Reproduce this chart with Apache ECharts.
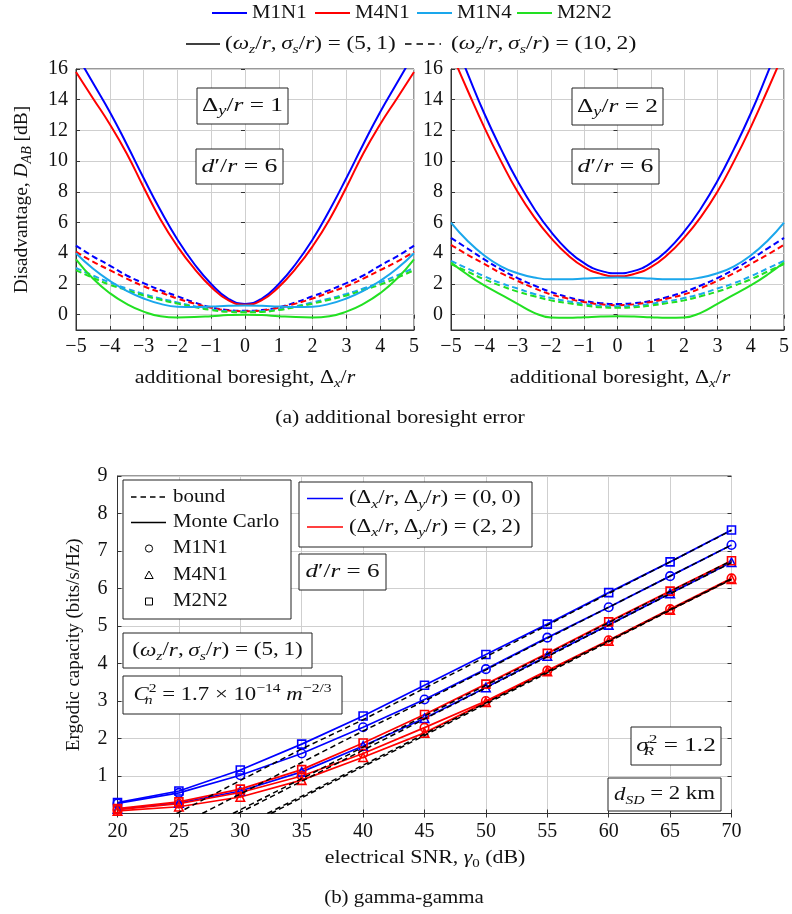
<!DOCTYPE html>
<html>
<head>
<meta charset="utf-8">
<script src="https://cdn.jsdelivr.net/npm/echarts@6/dist/echarts.min.js"></script>
<style>
  html, body { margin: 0; padding: 0; background: #fff; }
  #chart { width: 792px; height: 914px; }
</style>
</head>
<body>
<div id="chart"></div>
<script>
// ---------- data: (a) disadvantage vs additional boresight ----------
const offsets = [-5, -4.5, -4, -3.5, -3, -2.5, -2, -1.5, -1, -0.5, 0, 0.5, 1, 1.5, 2, 2.5, 3, 3.5, 4, 4.5, 5];
const disadvTicks = [0, 2, 4, 6, 8, 10, 12, 14, 16];

// Δy/r = 1, (ωz/r, σs/r) = (5,1)
const dy1_M1N1_a = [17.0, 15.1, 13.2, 11.1, 8.9, 6.8, 4.9, 3.3, 2.0, 1.05, 0.7, 1.05, 2.0, 3.3, 4.9, 6.8, 8.9, 11.1, 13.2, 15.1, 17.0];
const dy1_M4N1_a = [15.8, 14.1, 12.4, 10.5, 8.3, 6.2, 4.45, 3.0, 1.8, 0.95, 0.65, 0.95, 1.8, 3.0, 4.45, 6.2, 8.3, 10.5, 12.4, 14.1, 15.8];
const dy1_M1N4_a = [4.0, 3.0, 2.2, 1.55, 1.05, 0.7, 0.52, 0.5, 0.53, 0.58, 0.6, 0.58, 0.53, 0.5, 0.52, 0.7, 1.05, 1.55, 2.2, 3.0, 4.0];
const dy1_M2N2_a = [3.6, 2.35, 1.4, 0.7, 0.2, -0.1, -0.18, -0.16, -0.1, -0.03, 0.0, -0.03, -0.1, -0.16, -0.18, -0.1, 0.2, 0.7, 1.4, 2.35, 3.6];
// Δy/r = 1, (ωz/r, σs/r) = (10,2)
const dy1_M1N1_b = [4.5, 3.8, 3.2, 2.55, 2.05, 1.6, 1.2, 0.8, 0.48, 0.3, 0.25, 0.3, 0.48, 0.8, 1.2, 1.6, 2.05, 2.55, 3.2, 3.8, 4.5];
const dy1_M4N1_b = [4.1, 3.45, 2.9, 2.35, 1.85, 1.45, 1.05, 0.72, 0.45, 0.27, 0.22, 0.27, 0.45, 0.72, 1.05, 1.45, 1.85, 2.35, 2.9, 3.45, 4.1];
const dy1_M1N4_b = [3.05, 2.55, 2.1, 1.7, 1.35, 1.05, 0.8, 0.55, 0.35, 0.23, 0.2, 0.23, 0.35, 0.55, 0.8, 1.05, 1.35, 1.7, 2.1, 2.55, 3.05];
const dy1_M2N2_b = [2.9, 2.4, 1.95, 1.6, 1.25, 0.97, 0.72, 0.5, 0.3, 0.18, 0.15, 0.18, 0.3, 0.5, 0.72, 0.97, 1.25, 1.6, 1.95, 2.4, 2.9];

// Δy/r = 2, (ωz/r, σs/r) = (5,1)
const dy2_M1N1_a = [18.4, 15.7, 13.1, 10.8, 8.7, 6.9, 5.4, 4.2, 3.35, 2.85, 2.7, 2.85, 3.35, 4.2, 5.4, 6.9, 8.7, 10.8, 13.1, 15.7, 18.4];
const dy2_M4N1_a = [17.1, 14.6, 12.2, 10.0, 8.0, 6.35, 5.0, 3.9, 3.1, 2.65, 2.5, 2.65, 3.1, 3.9, 5.0, 6.35, 8.0, 10.0, 12.2, 14.6, 17.1];
const dy2_M1N4_a = [6.0, 4.8, 3.85, 3.15, 2.7, 2.42, 2.3, 2.3, 2.35, 2.4, 2.42, 2.4, 2.35, 2.3, 2.3, 2.42, 2.7, 3.15, 3.85, 4.8, 6.0];
const dy2_M2N2_a = [3.4, 2.6, 1.9, 1.3, 0.7, 0.12, -0.18, -0.21, -0.17, -0.12, -0.1, -0.12, -0.17, -0.21, -0.18, 0.12, 0.7, 1.3, 1.9, 2.6, 3.4];
// Δy/r = 2, (ωz/r, σs/r) = (10,2)
const dy2_M1N1_b = [5.0, 4.3, 3.6, 2.95, 2.38, 1.9, 1.48, 1.15, 0.9, 0.75, 0.7, 0.75, 0.9, 1.15, 1.48, 1.9, 2.38, 2.95, 3.6, 4.3, 5.0];
const dy2_M4N1_b = [4.55, 3.9, 3.3, 2.7, 2.2, 1.72, 1.32, 1.05, 0.82, 0.67, 0.62, 0.67, 0.82, 1.05, 1.32, 1.72, 2.2, 2.7, 3.3, 3.9, 4.55];
const dy2_M1N4_b = [3.5, 3.0, 2.5, 2.05, 1.7, 1.35, 1.08, 0.87, 0.7, 0.58, 0.55, 0.58, 0.7, 0.87, 1.08, 1.35, 1.7, 2.05, 2.5, 3.0, 3.5];
const dy2_M2N2_b = [3.3, 2.8, 2.3, 1.88, 1.5, 1.2, 0.93, 0.75, 0.6, 0.48, 0.45, 0.48, 0.6, 0.75, 0.93, 1.2, 1.5, 1.88, 2.3, 2.8, 3.3];

// ---------- data: (b) ergodic capacity, gamma-gamma ----------
const snr = [20, 25, 30, 35, 40, 45, 50, 55, 60, 65, 70];
// Monte Carlo, (Δx/r, Δy/r) = (0,0)
const mc00_M1N1 = [0.27, 0.55, 1.02, 1.6, 2.3, 3.04, 3.85, 4.69, 5.50, 6.33, 7.16];
const mc00_M4N1 = [0.12, 0.28, 0.6, 1.11, 1.8, 2.54, 3.36, 4.2, 5.03, 5.87, 6.70];
const mc00_M2N2 = [0.29, 0.6, 1.16, 1.85, 2.6, 3.42, 4.24, 5.05, 5.89, 6.71, 7.56];
// Monte Carlo, (Δx/r, Δy/r) = (2,2)
const mc22_M1N1 = [0.1, 0.26, 0.56, 1.0, 1.6, 2.29, 3.0, 3.81, 4.62, 5.45, 6.27];
const mc22_M4N1 = [0.07, 0.18, 0.44, 0.89, 1.5, 2.15, 2.97, 3.79, 4.6, 5.43, 6.25];
const mc22_M2N2 = [0.13, 0.31, 0.65, 1.17, 1.88, 2.64, 3.45, 4.27, 5.11, 5.93, 6.74];
// bounds: [SNR, capacity] pairs, starting where each bound leaves zero
const bd00_M2N2 = [[24.8, 0], [25, 0.03], [30, 0.88], [35, 1.72], [40, 2.5], [45, 3.34], [50, 4.18], [55, 5.02], [60, 5.87], [65, 6.71], [70, 7.55]];
const bd00_M1N1 = [[26.9, 0], [30, 0.52], [35, 1.36], [40, 2.2], [45, 3.0], [50, 3.83], [55, 4.67], [60, 5.5], [65, 6.33], [70, 7.16]];
const bd22_M2N2 = [[29.4, 0], [30, 0.1], [35, 0.93], [40, 1.77], [45, 2.6], [50, 3.42], [55, 4.25], [60, 5.09], [65, 5.92], [70, 6.74]];
const bd00_M4N1 = [[29.8, 0], [30, 0.03], [35, 0.86], [40, 1.69], [45, 2.52], [50, 3.35], [55, 4.18], [60, 5.02], [65, 5.86], [70, 6.69]];
const bd22_M1N1 = [[32.2, 0], [35, 0.46], [40, 1.29], [45, 2.12], [50, 2.95], [55, 3.78], [60, 4.61], [65, 5.44], [70, 6.26]];
const bd22_M4N1 = [[32.5, 0], [35, 0.42], [40, 1.25], [45, 2.08], [50, 2.92], [55, 3.75], [60, 4.58], [65, 5.42], [70, 6.24]];

// ---------- styling ----------
const FONT = 'Liberation Serif';
const INK = '#111';
const BLUE = '#0000ff', RED = '#ff0000', CYAN = '#1aa7ec', GREEN = '#22e022';
const GRID_C = '#cfcfcf', FRAME_C = '#333';
const TICK_SIZE = 20;

// rich-text styles for the math-like labels (italic symbols, sub/superscripts)
function mkRich(sz) {
  const lh = Math.round(sz * 1.3);
  const s = Math.round(sz * 0.7);
  return {
    rm:  { fontFamily: FONT, fontSize: sz, lineHeight: lh, color: INK },
    it:  { fontFamily: FONT, fontSize: sz, lineHeight: lh, color: INK, fontStyle: 'italic' },
    sb:  { fontFamily: FONT, fontSize: s, lineHeight: s, color: INK, fontStyle: 'italic', verticalAlign: 'bottom' },
    sbr: { fontFamily: FONT, fontSize: s, lineHeight: s, color: INK, verticalAlign: 'bottom' },
    sbz: { fontFamily: FONT, fontSize: s, lineHeight: s, color: INK, fontStyle: 'italic', verticalAlign: 'bottom', width: 0 },
    sp:  { fontFamily: FONT, fontSize: s, lineHeight: s, color: INK, verticalAlign: 'top' },
    spi: { fontFamily: FONT, fontSize: s, lineHeight: s, color: INK, fontStyle: 'italic', verticalAlign: 'top' }
  };
}

const minusFmt = v => String(v).replace('-', '\u2212');

function frameAxes(gi, xr, yr, xInt, yTicks) {
  // mirrored inner ticks on the top and right edges
  const xa = { gridIndex: gi, type: 'value', position: 'top', min: xr[0], max: xr[1], interval: xInt,
    axisLine: { show: false }, axisLabel: { show: false }, splitLine: { show: false },
    axisTick: { inside: true, length: 4, lineStyle: { color: FRAME_C } } };
  const ya = { gridIndex: gi, type: 'value', position: 'right', min: yr[0], max: yr[1],
    axisLine: { show: false }, axisLabel: { show: false }, splitLine: { show: false },
    axisTick: { inside: true, length: 4, lineStyle: { color: FRAME_C } } };
  if (yTicks) { ya.axisTick.customValues = yTicks; ya.splitNumber = 9; } else { ya.interval = 1; }
  return [xa, ya];
}

const labelStyle = { fontFamily: FONT, fontSize: TICK_SIZE, color: INK };

function topX(gi) {
  return {
    gridIndex: gi, type: 'value', min: -5, max: 5, interval: 1,
    axisLine: { onZero: false, lineStyle: { color: FRAME_C, width: 1 } },
    axisTick: { inside: true, length: 4, lineStyle: { color: FRAME_C } },
    axisLabel: Object.assign({ margin: 7, formatter: minusFmt }, labelStyle),
    splitLine: { show: true, lineStyle: { color: GRID_C, width: 1 } }
  };
}
function topY(gi, withName) {
  const a = {
    gridIndex: gi, type: 'value', min: -1, max: 16, splitNumber: 9,
    axisLine: { onZero: false, lineStyle: { color: FRAME_C, width: 1 } },
    axisTick: { inside: true, length: 4, customValues: disadvTicks, lineStyle: { color: FRAME_C } },
    axisLabel: Object.assign({ margin: 8, customValues: disadvTicks, formatter: minusFmt }, labelStyle),
    splitLine: { show: true, lineStyle: { color: GRID_C, width: 1 } }
  };
  if (withName) {
    a.name = '{rm|Disadvantage, }{it|D}{sb|AB}{rm| [dB]}';
    a.nameLocation = 'middle';
    a.nameGap = 42;
    a.nameRotate = 90;
    a.nameTextStyle = { rich: mkRich(19.5) };
  }
  return a;
}

const fL = frameAxes(0, [-5, 5], [-1, 16], 1, disadvTicks);
const fR = frameAxes(1, [-5, 5], [-1, 16], 1, disadvTicks);
const fB = frameAxes(2, [20, 70], [0, 9], 5, null);

const xAxes = [
  topX(0), topX(1),
  {
    gridIndex: 2, type: 'value', min: 20, max: 70, interval: 5,
    axisLine: { onZero: false, lineStyle: { color: FRAME_C, width: 1 } },
    axisTick: { inside: true, length: 4, lineStyle: { color: FRAME_C } },
    axisLabel: Object.assign({ margin: 8 }, labelStyle),
    splitLine: { show: true, lineStyle: { color: GRID_C, width: 1 } }
  },
  fL[0], fR[0], fB[0]
];
const yAxes = [
  topY(0, true), topY(1, false),
  {
    gridIndex: 2, type: 'value', min: 0, max: 9, interval: 1,
    name: '{rm|Ergodic capacity (bits/s/Hz)}',
    nameLocation: 'middle', nameGap: 31, nameRotate: 90, nameTextStyle: { rich: mkRich(19) },
    axisLine: { onZero: false, lineStyle: { color: FRAME_C, width: 1 } },
    axisTick: { inside: true, length: 4, lineStyle: { color: FRAME_C } },
    axisLabel: Object.assign({ margin: 10, formatter: v => (v === 0 ? '' : String(v)) }, labelStyle),
    splitLine: { show: true, lineStyle: { color: GRID_C, width: 1 } }
  },
  fL[1], fR[1], fB[1]
];

// ---------- series ----------
const DASH = [6, 3.5];
function curve(name, gi, vals, color, dashed) {
  return {
    name, type: 'line', xAxisIndex: gi, yAxisIndex: gi,
    data: offsets.map((x, i) => [x, vals[i]]),
    smooth: true, showSymbol: false, silent: true,
    lineStyle: { color, width: 2, type: dashed ? DASH : 'solid' },
    z: dashed ? 2 : 3
  };
}
function mc(name, vals, color, symbol) {
  return {
    name, type: 'line', xAxisIndex: 2, yAxisIndex: 2,
    data: snr.map((x, i) => [x, vals[i]]),
    symbol, symbolSize: symbol === 'rect' ? 8 : 8.5, showSymbol: true, silent: true,
    itemStyle: { color: 'rgba(255,255,255,0)', borderColor: color, borderWidth: 1.6 },
    lineStyle: { color, width: 1.7 },
    z: 3
  };
}
function bound(name, pairs) {
  return {
    name, type: 'line', xAxisIndex: 2, yAxisIndex: 2, data: pairs,
    showSymbol: false, silent: true,
    lineStyle: { color: '#000', width: 1.5, type: [5.5, 3.5] },
    z: 4
  };
}

const series = [
  curve('M1N1 (10,2)', 0, dy1_M1N1_b, BLUE, true),
  curve('M4N1 (10,2)', 0, dy1_M4N1_b, RED, true),
  curve('M1N4 (10,2)', 0, dy1_M1N4_b, CYAN, true),
  curve('M2N2 (10,2)', 0, dy1_M2N2_b, GREEN, true),
  curve('M1N1 (5,1)', 0, dy1_M1N1_a, BLUE, false),
  curve('M4N1 (5,1)', 0, dy1_M4N1_a, RED, false),
  curve('M1N4 (5,1)', 0, dy1_M1N4_a, CYAN, false),
  curve('M2N2 (5,1)', 0, dy1_M2N2_a, GREEN, false),

  curve('M1N1 (10,2) ', 1, dy2_M1N1_b, BLUE, true),
  curve('M4N1 (10,2) ', 1, dy2_M4N1_b, RED, true),
  curve('M1N4 (10,2) ', 1, dy2_M1N4_b, CYAN, true),
  curve('M2N2 (10,2) ', 1, dy2_M2N2_b, GREEN, true),
  curve('M1N1 (5,1) ', 1, dy2_M1N1_a, BLUE, false),
  curve('M4N1 (5,1) ', 1, dy2_M4N1_a, RED, false),
  curve('M1N4 (5,1) ', 1, dy2_M1N4_a, CYAN, false),
  curve('M2N2 (5,1) ', 1, dy2_M2N2_a, GREEN, false),

  mc('MC M1N1 (0,0)', mc00_M1N1, BLUE, 'circle'),
  mc('MC M4N1 (0,0)', mc00_M4N1, BLUE, 'triangle'),
  mc('MC M2N2 (0,0)', mc00_M2N2, BLUE, 'rect'),
  mc('MC M1N1 (2,2)', mc22_M1N1, RED, 'circle'),
  mc('MC M4N1 (2,2)', mc22_M4N1, RED, 'triangle'),
  mc('MC M2N2 (2,2)', mc22_M2N2, RED, 'rect'),
  bound('bound M2N2 (0,0)', bd00_M2N2),
  bound('bound M1N1 (0,0)', bd00_M1N1),
  bound('bound M2N2 (2,2)', bd22_M2N2),
  bound('bound M4N1 (0,0)', bd00_M4N1),
  bound('bound M1N1 (2,2)', bd22_M1N1),
  bound('bound M4N1 (2,2)', bd22_M4N1)
];

// ---------- legends, annotation boxes, axis titles, captions ----------
const G = [];
function seg(x1, y1, x2, y2, color, dash, w) {
  G.push({ type: 'line', shape: { x1, y1, x2, y2 }, z: 60,
    style: { stroke: color, lineWidth: w || 1.8, lineDash: dash || null } });
}
function box(x1, y1, x2, y2) {
  G.push({ type: 'rect', shape: { x: x1, y: y1, width: x2 - x1, height: y2 - y1 }, z: 55,
    style: { fill: '#fff', stroke: '#222', lineWidth: 1 } });
}
// text with a horizontal stretch (sx) so typeset math keeps its wide spacing
function txt(x, y, text, sz, align, sx) {
  const a = align || 'left';
  G.push({ type: 'text', x, y, scaleX: sx || 1, z: 61,
    style: { text, rich: mkRich(sz), fontFamily: FONT, fontSize: sz, fill: INK,
      align: a, verticalAlign: 'middle', textAlign: a, textVerticalAlign: 'middle' } });
}

const PAIR_A = '{rm|(}{it|ω}{sb|z}{rm|/}{it|r}{rm|,\u2009}{it|σ}{sb|s}{rm|/}{it|r}{rm|) = (5,\u20091)}';
const PAIR_B = '{rm|(}{it|ω}{sb|z}{rm|/}{it|r}{rm|,\u2009}{it|σ}{sb|s}{rm|/}{it|r}{rm|) = (10,\u20092)}';

// top legend
const legendRow1 = [
  { c: BLUE, x: 212, label: 'M1N1' },
  { c: RED, x: 315, label: 'M4N1' },
  { c: CYAN, x: 417, label: 'M1N4' },
  { c: GREEN, x: 517, label: 'M2N2' }
];
legendRow1.forEach(e => { seg(e.x, 13, e.x + 35, 13, e.c, null, 1.8); txt(e.x + 40, 13, '{rm|' + e.label + '}', 19, 'left', 1.1); });
seg(186, 44, 220, 44, '#000', null, 1.6);
txt(225, 44, PAIR_A, 19, 'left', 1.22);
seg(405, 44, 441, 44, '#000', [6.5, 5], 1.6);
txt(451, 44, PAIR_B, 19, 'left', 1.24);

// panel notes (a)
box(197, 88, 288, 124);  txt(242.5, 106, '{rm|Δ}{sb|y}{rm|/}{it|r}{rm| = 1}', 19.5, 'center', 1.3);
box(196, 149, 283, 184); txt(239.5, 166.5, '{it|d}{rm|′/}{it|r}{rm| = 6}', 19.5, 'center', 1.32);
box(572, 88, 663, 125);  txt(617.5, 106.5, '{rm|Δ}{sb|y}{rm|/}{it|r}{rm| = 2}', 19.5, 'center', 1.3);
box(572, 149, 659, 184); txt(615.5, 166.5, '{it|d}{rm|′/}{it|r}{rm| = 6}', 19.5, 'center', 1.32);

// axis titles (a)
txt(245, 378, '{rm|additional boresight, Δ}{sb|x}{rm|/}{it|r}', 19, 'center', 1.15);
txt(620, 378, '{rm|additional boresight, Δ}{sb|x}{rm|/}{it|r}', 19, 'center', 1.15);

// line-style / marker legend (b)
box(123, 480, 291, 619);
seg(131, 497, 166, 497, '#000', [5.5, 4], 1.5); txt(173, 497, '{rm|bound}', 19, 'left', 1.1);
seg(131, 522.5, 166, 522.5, '#000', null, 1.5); txt(173, 522.5, '{rm|Monte Carlo}', 19, 'left', 1.1);
G.push({ type: 'circle', shape: { cx: 149, cy: 548.5, r: 3.6 }, z: 60, style: { fill: 'none', stroke: '#000', lineWidth: 1 } });
txt(173, 548.5, '{rm|M1N1}', 19, 'left', 1.1);
G.push({ type: 'polygon', shape: { points: [[149, 571], [153.2, 578.5], [144.8, 578.5]] }, z: 60, style: { fill: 'none', stroke: '#000', lineWidth: 1 } });
txt(173, 575, '{rm|M4N1}', 19, 'left', 1.1);
G.push({ type: 'rect', shape: { x: 145.5, y: 598, width: 7, height: 7 }, z: 60, style: { fill: 'none', stroke: '#000', lineWidth: 1 } });
txt(173, 601.5, '{rm|M2N2}', 19, 'left', 1.1);

// colour legend (b)
box(299, 482, 532, 547);
seg(307, 498.5, 343, 498.5, BLUE, null, 1.5);
txt(349, 498.5, '{rm|(Δ}{sb|x}{rm|/}{it|r}{rm|,\u2009Δ}{sb|y}{rm|/}{it|r}{rm|) = (0,\u20090)}', 19, 'left', 1.2);
seg(307, 527, 343, 527, RED, null, 1.5);
txt(349, 527, '{rm|(Δ}{sb|x}{rm|/}{it|r}{rm|,\u2009Δ}{sb|y}{rm|/}{it|r}{rm|) = (2,\u20092)}', 19, 'left', 1.2);

box(299, 554, 386, 590);   txt(342.5, 572, '{it|d}{rm|′/}{it|r}{rm| = 6}', 19, 'center', 1.32);
box(123, 633, 312, 668);   txt(217.5, 650.5, PAIR_A, 19, 'center', 1.22);
box(123, 676, 342, 714);   txt(232.5, 695, '{it|C}{sbz|n}{sp|2}{rm| = 1.7 × 10}{sp|−14}{it| m}{sp|−2/3}', 19, 'center', 1.2);
box(631, 727, 721, 765);   txt(676, 746, '{it|σ}{sbz|R}{sp|2}{rm| = 1.2}', 19, 'center', 1.33);
box(608, 778, 721, 811);   txt(664.5, 794.5, '{it|d}{sb|SD}{rm| = 2 km}', 19, 'center', 1.2);

// axis title (b)
txt(425, 858, '{rm|electrical SNR, }{it|γ}{sbr|0}{rm| (dB)}', 19, 'center', 1.15);

// captions
txt(400, 418, '{rm|(a) additional boresight error}', 19, 'center', 1.14);
txt(404, 898, '{rm|(b) gamma-gamma}', 19, 'center', 1.1);

const option = {
  animation: false,
  backgroundColor: '#fff',
  textStyle: { fontFamily: FONT },
  grid: [
    { left: 76, top: 69, width: 338, height: 261, show: true, borderColor: FRAME_C, borderWidth: 1 },
    { left: 451, top: 69, width: 338, height: 261, show: true, borderColor: FRAME_C, borderWidth: 1 },
    { left: 117.5, top: 476, width: 614, height: 337.5, show: true, borderColor: FRAME_C, borderWidth: 1 }
  ],
  xAxis: xAxes,
  yAxis: yAxes,
  series,
  graphic: G
};

const chart = echarts.init(document.getElementById('chart'), null, { renderer: 'canvas' });
chart.setOption(option);
</script>
</body>
</html>
